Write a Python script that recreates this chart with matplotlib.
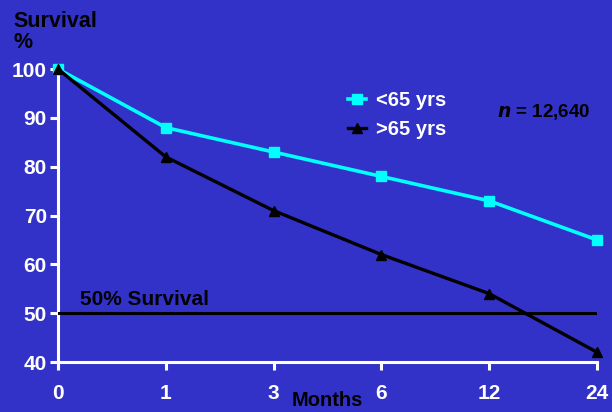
import matplotlib
matplotlib.use("Agg")
import matplotlib.pyplot as plt

months = ["0", "1", "3", "6", "12", "24"]
under_65 = [100, 88, 83, 78, 73, 65]
over_65 = [100, 82, 71, 62, 54, 42]
y_ticks = [40, 50, 60, 70, 80, 90, 100]

BG = "#3232C8"
plt.rcParams["font.family"] = ["Liberation Sans", "DejaVu Sans"]
plt.rcParams["font.weight"] = "bold"

fig = plt.figure(figsize=(6.12, 4.12), dpi=100, facecolor=BG)
ax = fig.add_axes([58 / 612, 1 - 362 / 412, (597 - 58) / 612, (362 - 69) / 412])
ax.set_facecolor(BG)

x = list(range(len(months)))
ax.plot(x, under_65, color="#00FFFF", lw=2.6, marker="s", ms=7, clip_on=False,
        label="<65 yrs", zorder=4)
ax.plot(x, over_65, color="black", lw=2.4, marker="^", ms=7, clip_on=False,
        label=">65 yrs", zorder=4)
ax.axhline(50, color="black", lw=2.2, zorder=3)
ax.text(0.2, 51.6, "50% Survival", color="black", fontsize=15, fontweight="bold")

ax.set_xlim(0, len(months) - 1)
ax.set_ylim(40, 100)
ax.set_xticks(x)
ax.set_xticklabels(months)
ax.set_yticks(y_ticks)

for s in ["top", "right"]:
    ax.spines[s].set_visible(False)
for s in ["left", "bottom"]:
    ax.spines[s].set_color("white")
    ax.spines[s].set_linewidth(2.2)
ax.spines["left"].set_bounds(38.8, 100.5)
ax.tick_params(axis="both", colors="white", width=2.2, length=6, labelsize=15)
ax.tick_params(axis="x", pad=10)
ax.tick_params(axis="y", pad=2)
for lab in ax.get_xticklabels() + ax.get_yticklabels():
    lab.set_fontweight("bold")

fig.text(13 / 612, 1 - 32 / 412, "Survival\n%", color="black", fontsize=15.5,
         fontweight="bold", ha="left", va="center", linespacing=1.0)
fig.text(327 / 612, 1 - 401 / 412, "Months", color="black", fontsize=14.5,
         fontweight="bold", ha="center", va="center")
fig.text(590 / 612, 1 - 112 / 412, r"$\mathbfit{n}$ = 12,640", color="black",
         fontsize=13.5, fontweight="bold", ha="right", va="center")

leg = ax.legend(loc="upper left", bbox_to_anchor=(282 / 539, 1 - 14 / 293),
                frameon=False, fontsize=14.5, handlelength=0.9, handletextpad=0.5,
                labelspacing=0.5, borderaxespad=0)
for t in leg.get_texts():
    t.set_color("white")
    t.set_fontweight("bold")

fig.savefig("out.png", dpi=100, facecolor=BG)
